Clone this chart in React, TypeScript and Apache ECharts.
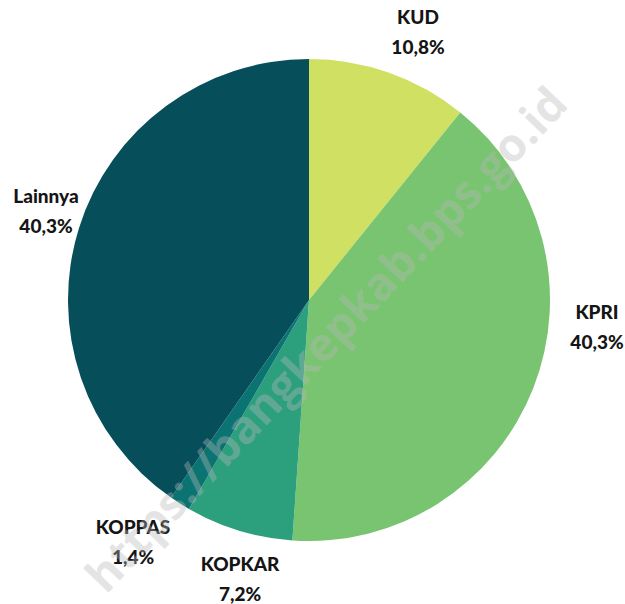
import React, { useEffect, useRef } from "react";
import * as echarts from "echarts";

const categories = ["KUD", "KPRI", "KOPKAR", "KOPPAS", "Lainnya"];
const values = [10.8, 40.3, 7.2, 1.4, 40.3];
const colors = ["#cfe063", "#79c470", "#2c9f7d", "#0b7472", "#054e5a"];
const watermark = "https://bangkepkab.bps.go.id";

// label anchor placement (layout only)
const labelSpots: [number, number][] = [
  [418, 31],
  [597, 326],
  [240, 578],
  [133, 541],
  [46, 210],
];

export default function App() {
  const ref = useRef<HTMLDivElement>(null);
  useEffect(() => {
    if (!ref.current) return;
    const chart = echarts.init(ref.current, undefined, { renderer: "svg" });
    chart.setOption({
      animation: false,
      backgroundColor: "#ffffff",
      series: [
        {
          type: "pie",
          center: [309, 300],
          radius: 241,
          startAngle: 90,
          clockwise: true,
          data: categories.map((c, i) => ({
            name: c,
            value: values[i],
            itemStyle: { color: colors[i] },
          })),
          label: {
            show: true,
            position: "outside",
            alignTo: "none",
            overflow: "none",
            formatter: (p: any) => `${p.name}\n${String(p.value).replace(".", ",")}%`,
            color: "#151515",
            fontFamily: "Lato",
            fontWeight: 900,
            fontSize: 19,
            lineHeight: 30,
            align: "center",
            verticalAlign: "middle",
          },
          labelLayout: (p: any) => {
            const s = labelSpots[p.dataIndex];
            return { x: s[0], y: s[1], align: "center", verticalAlign: "middle" };
          },
          labelLine: { show: false, length: 10, length2: 0 },
          emphasis: { disabled: true },
        },
      ],
      graphic: [
        {
          type: "text",
          x: 325,
          y: 338,
          rotation: (46.5 * Math.PI) / 180,
          z: 100,
          style: {
            text: watermark,
            fill: "rgba(185,185,185,0.38)",
            font: "bold 46px 'Open Sans'",
            align: "center",
            verticalAlign: "middle",
          },
        },
      ],
    });
    return () => chart.dispose();
  }, []);
  return (
    <div
      ref={ref}
      style={{ position: "fixed", left: 0, top: 0, width: 625, height: 604 }}
    />
  );
}
